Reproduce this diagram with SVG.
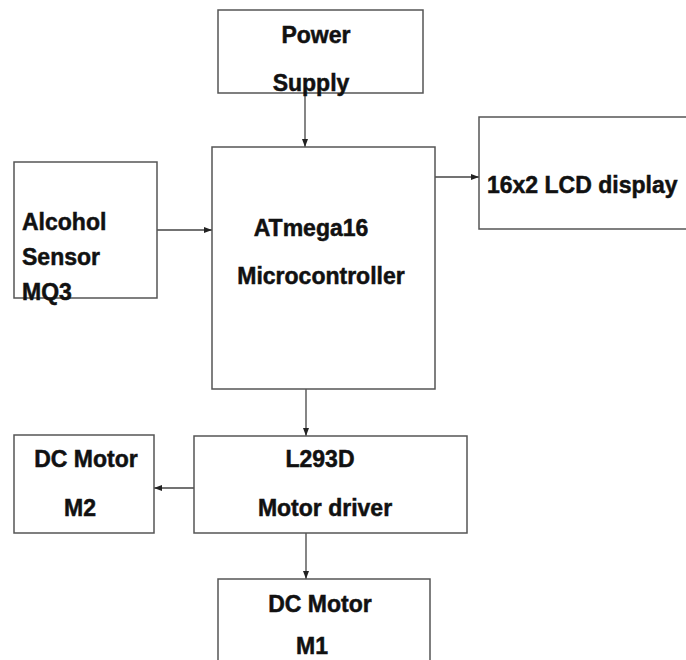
<svg xmlns="http://www.w3.org/2000/svg" width="686" height="660" viewBox="0 0 686 660">
<defs>
<style>
.box{fill:#fff;stroke:#555;stroke-width:1.5}
.t{font-family:"Liberation Sans",Arial,sans-serif;font-weight:bold;font-size:23px;fill:#111;stroke:#111;stroke-width:0.5}
.c{stroke:#444;stroke-width:1.3;fill:none}
</style>
<marker id="ah" viewBox="0 0 8 8" refX="8" refY="4" markerWidth="8" markerHeight="8" markerUnits="userSpaceOnUse" orient="auto">
<path d="M0,1 L8,4 L0,7 Z" fill="#222"/>
</marker>
</defs>
<rect width="686" height="660" fill="#fff"/>
<g id="connectors">
<line class="c" x1="305" y1="93" x2="305" y2="147" marker-end="url(#ah)"/>
<line class="c" x1="157" y1="230" x2="212" y2="230" marker-end="url(#ah)"/>
<line class="c" x1="435" y1="177" x2="479" y2="177" marker-end="url(#ah)"/>
<line class="c" x1="306" y1="389" x2="306" y2="436" marker-end="url(#ah)"/>
<line class="c" x1="194" y1="488" x2="154" y2="488" marker-end="url(#ah)"/>
<line class="c" x1="306" y1="533" x2="306" y2="579" marker-end="url(#ah)"/>
</g>
<g id="power">
<rect class="box" x="218" y="10" width="205" height="83"/>
<text class="t" x="316" y="43" text-anchor="middle">Power</text>
<text class="t" x="311" y="91" text-anchor="middle">Supply</text>
</g>
<g id="micro">
<rect class="box" x="212" y="147" width="223" height="242"/>
<text class="t" x="311" y="236" text-anchor="middle">ATmega16</text>
<text class="t" x="321" y="284" text-anchor="middle">Microcontroller</text>
</g>
<g id="sensor">
<rect class="box" x="14" y="162" width="143" height="136"/>
<text class="t" x="22" y="230">Alcohol</text>
<text class="t" x="22" y="265">Sensor</text>
<text class="t" x="22" y="300">MQ3</text>
</g>
<g id="lcd">
<rect class="box" x="479" y="117" width="220" height="112"/>
<text class="t" x="487" y="193">16x2 LCD display</text>
</g>
<g id="driver">
<rect class="box" x="194" y="436" width="273" height="97"/>
<text class="t" x="320" y="467" text-anchor="middle">L293D</text>
<text class="t" x="325" y="516" text-anchor="middle">Motor driver</text>
</g>
<g id="m2">
<rect class="box" x="14" y="435" width="140" height="98"/>
<text class="t" x="86" y="467" text-anchor="middle">DC Motor</text>
<text class="t" x="80" y="516" text-anchor="middle">M2</text>
</g>
<g id="m1">
<rect class="box" x="218" y="579" width="212" height="90"/>
<text class="t" x="320" y="612" text-anchor="middle">DC Motor</text>
<text class="t" x="312" y="654" text-anchor="middle">M1</text>
</g>
</svg>
